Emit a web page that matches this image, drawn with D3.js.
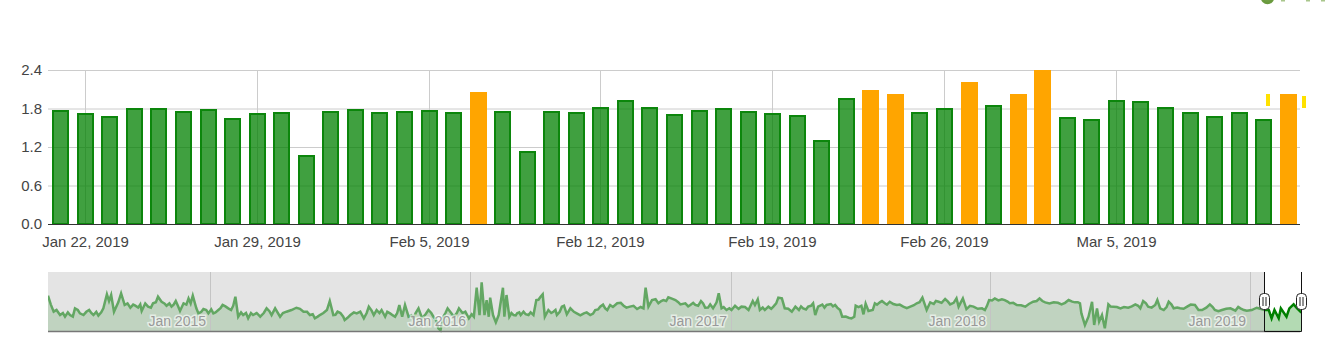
<!DOCTYPE html>
<html>
<head>
<meta charset="utf-8">
<title>Chart</title>
<script src="https://cdn.jsdelivr.net/npm/d3@7"></script>
<style>
body { margin: 0; background: #fff; overflow: hidden; }
text { font-family: "Liberation Sans", Arial, sans-serif; }
</style>
</head>
<body>
<div id="chart"></div>
<script>
// Bars, one per day
const barDates = ['2019-01-21','2019-01-22','2019-01-23','2019-01-24','2019-01-25','2019-01-26','2019-01-27','2019-01-28','2019-01-29','2019-01-30',
    '2019-01-31','2019-02-01','2019-02-02','2019-02-03','2019-02-04','2019-02-05','2019-02-06','2019-02-07','2019-02-08','2019-02-09',
    '2019-02-10','2019-02-11','2019-02-12','2019-02-13','2019-02-14','2019-02-15','2019-02-16','2019-02-17','2019-02-18','2019-02-19',
    '2019-02-20','2019-02-21','2019-02-22','2019-02-23','2019-02-24','2019-02-25','2019-02-26','2019-02-27','2019-02-28','2019-03-01',
    '2019-03-02','2019-03-03','2019-03-04','2019-03-05','2019-03-06','2019-03-07','2019-03-08','2019-03-09','2019-03-10','2019-03-11','2019-03-12'];
const barValues = [1.78,1.73,1.68,1.81,1.81,1.76,1.79,1.65,1.73,1.75,
    1.08,1.76,1.79,1.75,1.76,1.78,1.75,2.06,1.76,1.14,
    1.76,1.75,1.82,1.93,1.82,1.71,1.78,1.81,1.76,1.73,
    1.70,1.31,1.96,2.09,2.03,1.75,1.81,2.22,1.86,2.03,
    2.40,1.67,1.64,1.93,1.92,1.82,1.75,1.68,1.75,1.64,2.03];
const overLimit = 2;

const yTicks = [0, 0.6, 1.2, 1.8, 2.4];
const xTicks = ['2019-01-22','2019-01-29','2019-02-05','2019-02-12','2019-02-19','2019-02-26','2019-03-05'];

// Two small yellow marks beside the last bars
const markDates = ['2019-03-11 05:00','2019-03-12 16:00'];
const markLow = [1.83, 1.80];
const markHigh = [2.02, 1.99];

// Range slider series: days since the start of the slider, and the value on that day
const sliderDays = [0,8,17,24,31,38,45,50,58,64,71,78,83,89,93,99,103,108,116,123,130,132,141,148,155,160,167,174,180,186,191,198,204,209,212,219,226,233,240,246,254,261,264,268,275,282,289,299,308,315,320,327,336,350,360,369,376,383,393,397,402,408,416,418,426,435,
    440,445,452,459,463,470,475,482,489,495,499,503,508,515,522,527,536,543,550,553,557,563,572,579,588,593,600,604,608,611,615,618,621,623,627,631,635,641,643,646,650,656,661,666,670,677,684,688,694,697,700,705,712,717,724,727,731,736,745,755,764,771,778,785,792,802,811,820,830,839,842,846,851,860,867,874,884,
    891,898,905,912,920,926,933,937,942,945,949,956,963,968,977,987,993,996,1000,1003,1010,1015,1022,1029,1034,1038,1048,1053,1064,1071,1078,1081,1085,1097,1109,1116,1119,1128,1136,1138,1146,1149,1152,1156,1162,1165,1172,1179,1186,1196,1205,1215,1224,1232,1238,1243,1255,1264,1271,1280,1283,1289,1294,1304,1316,1320,1326,1334,1344,
    1348,1355,1365,1377,1388,1397,1405,1417,1428,1438,1447,1454,1456,1461,1466,1471,1474,1478,1481,1485,1489,1494,1501,1511,1522,1532,1539,1543,1550,1560,1563,1567,1572,1579,1586,1595,1605,1616,1621,1626,1637,1644,1654,1666,1680,1689,1703,1714,1720,1724,1728,1734,1737,1745,1749,1755,1760,1766];
const sliderValues = [2.94,1.61,1.33,1.19,1.33,1.89,1.47,1.33,1.75,1.33,1.28,1.89,3.06,3.00,1.61,2.39,3.14,2.17,1.94,2.11,2.22,1.67,2.03,2.31,2.86,2.44,2.11,2.03,2.50,1.67,2.31,2.72,2.94,1.89,1.47,1.83,1.47,1.47,1.75,2.17,1.89,2.11,2.86,1.19,1.33,1.06,1.33,1.19,1.89,1.33,1.89,1.19,1.61,1.94,1.61,1.33,1.06,1.33,1.75,2.50,1.33,1.61,1.19,0.92,1.33,1.47,
    1.61,1.06,2.03,1.33,1.75,1.75,1.19,1.47,1.19,2.17,1.19,2.17,1.19,1.06,1.89,1.06,1.75,1.19,0.22,0.05,1.19,1.89,1.19,1.89,1.61,1.06,1.19,3.61,1.33,4.06,1.33,2.58,1.19,2.78,1.33,0.72,1.33,3.61,1.19,3.00,1.19,1.33,1.47,1.33,1.61,1.33,1.33,2.58,2.86,3.06,1.19,1.75,1.61,1.33,2.03,2.11,1.39,1.89,1.47,1.47,1.33,1.75,2.03,1.89,2.17,2.31,2.11,2.03,1.83,1.89,3.61,2.03,2.58,2.31,2.58,2.81,2.58,
    2.22,2.31,2.17,2.17,2.50,1.94,2.22,1.89,2.39,3.14,1.89,1.75,1.75,2.11,2.03,1.75,2.50,2.17,2.64,1.75,1.75,2.03,2.03,2.78,2.72,1.89,1.61,2.03,1.89,2.03,2.31,1.33,2.03,2.17,2.17,1.75,1.19,1.11,1.19,2.11,2.11,1.39,2.28,1.67,1.75,2.31,2.39,2.31,2.44,2.17,2.03,2.03,2.31,2.78,1.75,2.39,2.44,2.67,2.22,2.72,2.03,2.72,1.83,2.03,1.89,1.75,2.58,2.72,2.64,
    2.58,2.31,2.17,2.03,2.44,2.72,2.39,2.39,2.22,2.58,2.39,2.31,1.47,0.50,1.19,2.44,0.50,1.89,0.78,1.33,0.22,2.22,2.03,1.89,1.94,2.22,1.89,2.50,2.03,2.17,2.58,1.89,1.75,2.44,1.89,1.89,2.03,2.17,1.75,1.75,2.22,1.75,1.75,1.89,1.89,1.69,1.94,1.75,1.75,1.06,1.75,1.06,1.89,1.19,1.89,2.22,1.89,1.53];

// Finer readings of the noisy stretches, merged into the series above
const sliderFineDays = [4,12,21,28,35,42,54,61,68,75,86,112,120,127,137,145,152,164,171,177,183,195,201,216,223,230,236,243,250,258,272,279,286,294,304,312,331,343,355,365,373,380,388,405,412,422,431,
    449,456,467,478,486,492,512,518,532,540,547,560,568,576,584,597,653,659,664,673,680,691,709,715,721,741,750,759,768,775,782,788,796,807,815,825,835,856,864,871,879,888,
    902,909,916,923,930,952,960,973,982,1007,1019,1026,1043,1058,1061,1068,1075,1091,1094,1103,1106,1112,1124,1132,1142,1168,1175,1182,1191,1200,1210,1220,1228,1248,1251,1259,1268,1276,1299,1310,1323,1330,1339,
    1352,1360,1371,1382,1393,1401,1411,1423,1433,1443,1451,1497,1506,1516,1527,1536,1547,1555,1576,1583,1591,1600,1610,1632,1641,1649,1660,1673,1677,1685,1696,1708];
const sliderFineValues = [2.2,1.75,1.5,1.55,1.2,1.75,1.6,1.5,1.6,1.55,2.5,2.3,2.2,1.95,2.3,1.95,2.4,2.3,2.3,2.2,2.1,2.2,2.3,1.6,1.75,1.8,1.55,1.9,2.05,1.75,1.55,1.5,1.5,1.5,1.5,1.65,1.5,1.75,1.85,1.6,1.4,1.2,1.5,1.35,1.5,1.1,1.55,
    1.5,1.7,1.5,1.6,1.3,1.5,1.3,1.5,1.4,1.5,0.9,1.5,1.5,1.5,1.5,1.4,1.5,1.3,1.55,1.4,1.55,2.6,1.5,1.75,1.6,1.6,1.3,1.55,1.45,1.8,2.2,1.75,2.0,2.35,1.95,2.1,2.0,2.65,2.5,2.5,2.7,2.4,
    2.05,2.35,2.1,2.3,1.95,2.0,1.9,1.85,2.0,1.95,1.85,2.3,1.85,1.75,2.05,1.8,2.1,2.2,1.95,2.25,2.05,1.95,1.2,1.05,2.0,2.2,2.5,2.2,2.25,2.2,1.9,2.15,2.4,2.25,2.5,2.35,2.45,2.35,2.1,1.85,2.1,2.55,2.55,
    2.45,2.35,2.15,2.25,2.5,2.5,2.3,2.35,2.35,2.45,2.4,2.05,2.0,2.0,2.05,2.1,2.3,1.95,2.0,2.2,1.95,1.85,2.2,1.95,2.0,1.65,1.85,1.7,2.0,1.75,1.75,1.85];

const sliderTickDays = [229, 595, 963, 1328, 1694];
const sliderTickLabels = ['Jan 2015', 'Jan 2016', 'Jan 2017', 'Jan 2018', 'Jan 2019'];
const windowDays = [1714, 1766];

const width = 1331, height = 361;
const parseDay = d3.timeParse('%Y-%m-%d');
const parseHour = d3.timeParse('%Y-%m-%d %H:%M');

const svg = d3.select('#chart').append('svg')
    .attr('width', width)
    .attr('height', height)
    .style('display', 'block');

drawMain();
drawSlider();
drawCorner();

function drawMain() {
    const left = 48, right = 1300, top = 70, bottom = 224;

    // Half a day either side so that each bar sits in the middle of its slot
    const x = d3.scaleTime()
        .domain([parseHour('2019-01-20 12:00'), parseHour('2019-03-12 12:00')])
        .range([left, right]);
    const y = d3.scaleLinear().domain([0, 2.4]).range([bottom, top]);

    // Grid and labels come from the axes
    const xAxis = svg.append('g')
        .attr('transform', `translate(0,${bottom})`)
        .call(d3.axisBottom(x)
            .tickValues(xTicks.map(parseDay))
            .tickFormat(d3.timeFormat('%b %-d, %Y'))
            .tickSize(top - bottom)
            .tickPadding(0));
    xAxis.select('.domain').remove();
    xAxis.selectAll('.tick').attr('transform', d => `translate(${Math.round(x(d)) + 0.5},0)`);
    xAxis.selectAll('line').attr('stroke', '#ccc');
    xAxis.selectAll('text')
        .attr('y', 22.5)
        .attr('dy', 0)
        .attr('font-size', 15)
        .attr('fill', '#444');

    const yAxis = svg.append('g')
        .attr('transform', `translate(${left},0)`)
        .call(d3.axisLeft(y)
            .tickValues(yTicks)
            .tickFormat(d3.format('.1f'))
            .tickSize(left - right)
            .tickPadding(6));
    yAxis.select('.domain').remove();
    yAxis.selectAll('line').attr('stroke', '#ccc');
    yAxis.selectAll('text')
        .attr('font-size', 15)
        .attr('fill', '#444');

    const bars = barDates.map((d, i) => ({ date: parseDay(d), value: barValues[i] }));

    svg.append('g').selectAll('rect')
        .data(bars.filter(d => d.value < overLimit))
        .enter().append('rect')
        .attr('x', d => Math.round(x(d.date) - 8) + 1)
        .attr('y', d => Math.round(y(d.value)) + 1)
        .attr('width', 15)
        .attr('height', d => bottom - Math.round(y(d.value)) - 1)
        .attr('fill', 'green')
        .attr('fill-opacity', 0.75)
        .attr('stroke', '#0c860c')
        .attr('stroke-width', 2);

    svg.append('g').selectAll('rect')
        .data(bars.filter(d => d.value >= overLimit))
        .enter().append('rect')
        .attr('x', d => Math.round(x(d.date) - 8))
        .attr('y', d => Math.round(y(d.value)))
        .attr('width', 17)
        .attr('height', d => bottom - Math.round(y(d.value)))
        .attr('fill', 'orange');

    svg.append('g').selectAll('rect')
        .data(markDates)
        .enter().append('rect')
        .attr('x', d => Math.round(x(parseHour(d))) - 2)
        .attr('y', (d, i) => Math.round(y(markHigh[i])))
        .attr('width', 4)
        .attr('height', 12)
        .attr('fill', '#ffe100');

    // Baseline
    svg.append('line')
        .attr('x1', left).attr('x2', right)
        .attr('y1', bottom + 0.5).attr('y2', bottom + 0.5)
        .attr('stroke', '#333');
}

function drawSlider() {
    const left = 48, right = 1300, top = 272, bottom = 331;

    const x = d3.scaleLinear().domain([0, 1764]).range([left, right]);
    const y = d3.scaleLinear().domain([0, 4.92]).range([bottom, top]);

    const points = sliderDays.map((d, i) => [d, sliderValues[i]])
        .concat(sliderFineDays.map((d, i) => [d, sliderFineValues[i]]))
        .sort((a, b) => a[0] - b[0]);
    const area = d3.area().x(d => x(d[0])).y0(bottom).y1(d => y(d[1]));
    const line = d3.line().x(d => x(d[0])).y(d => y(d[1]));

    const winLeft = Math.floor(x(windowDays[0])) + 0.5, winRight = Math.floor(x(windowDays[1])) + 0.5;

    // The part of the slider that is not selected
    svg.append('rect')
        .attr('x', left).attr('y', top)
        .attr('width', right - left).attr('height', bottom - top)
        .attr('fill', '#e4e4e4');

    svg.append('clipPath').attr('id', 'outside').append('rect')
        .attr('x', left).attr('y', top)
        .attr('width', winLeft - left).attr('height', bottom - top + 2);
    svg.append('clipPath').attr('id', 'inside').append('rect')
        .attr('x', winLeft).attr('y', top)
        .attr('width', winRight - winLeft).attr('height', bottom - top);

    svg.append('rect')
        .attr('x', winLeft).attr('y', top)
        .attr('width', winRight - winLeft).attr('height', bottom - top)
        .attr('fill', '#fff');

    svg.append('path').datum(points)
        .attr('clip-path', 'url(#outside)')
        .attr('d', area)
        .attr('fill', '#c0d3c0');
    svg.append('path').datum(points)
        .attr('clip-path', 'url(#inside)')
        .attr('d', area)
        .attr('fill', '#b3dab3');

    // Year lines
    svg.append('g').selectAll('line')
        .data(sliderTickDays)
        .enter().append('line')
        .attr('x1', d => Math.floor(x(d)) + 0.5)
        .attr('x2', d => Math.floor(x(d)) + 0.5)
        .attr('y1', top).attr('y2', bottom)
        .attr('stroke', '#c4c4c4');

    svg.append('path').datum(points)
        .attr('clip-path', 'url(#outside)')
        .attr('d', line)
        .attr('fill', 'none')
        .attr('stroke', '#63a763')
        .attr('stroke-width', 2.5);
    svg.append('path').datum(points)
        .attr('clip-path', 'url(#inside)')
        .attr('d', line)
        .attr('fill', 'none')
        .attr('stroke', 'green')
        .attr('stroke-width', 2.5);

    svg.append('g').selectAll('text')
        .data(sliderTickDays)
        .enter().append('text')
        .attr('x', d => Math.floor(x(d)) - 4)
        .attr('y', 326)
        .attr('text-anchor', 'end')
        .attr('font-size', 14)
        .attr('fill', '#999')
        .attr('stroke', '#fff')
        .attr('stroke-opacity', 0.6)
        .attr('stroke-width', 3)
        .attr('paint-order', 'stroke')
        .text((d, i) => sliderTickLabels[i]);

    svg.append('line')
        .attr('x1', left).attr('x2', right)
        .attr('y1', bottom + 0.5).attr('y2', bottom + 0.5)
        .attr('stroke', '#777')
        .attr('stroke-width', 1.5);

    // Selected window and its two handles
    svg.append('path')
        .attr('d', `M${winLeft},${top}V${bottom + 0.5}H${winRight}V${top}`)
        .attr('fill', 'none')
        .attr('stroke', '#111');

    const handles = svg.append('g').selectAll('g')
        .data([winLeft, winRight])
        .enter().append('g')
        .attr('transform', d => `translate(${d},301.5)`);
    handles.append('rect')
        .attr('x', -5).attr('y', -8)
        .attr('width', 10).attr('height', 16)
        .attr('rx', 4)
        .attr('fill', '#fff')
        .attr('stroke', '#222');
    handles.append('path')
        .attr('d', 'M-1.5,-4.5V4.5M1.5,-4.5V4.5')
        .attr('stroke', '#222');
}

// Remains of the legend, cut off by the top edge of the page
function drawCorner() {
    svg.append('circle')
        .attr('cx', 1267.5).attr('cy', -2.5).attr('r', 5.5)
        .attr('fill', '#6f9f45')
        .attr('stroke', '#6a9a3e')
        .attr('stroke-width', 2.5);
    svg.append('g').selectAll('rect')
        .data([1281, 1306, 1321])
        .enter().append('rect')
        .attr('x', d => d).attr('y', 0)
        .attr('width', 4).attr('height', 1.5)
        .attr('fill', '#a9c68c');
}
</script>
</body>
</html>
